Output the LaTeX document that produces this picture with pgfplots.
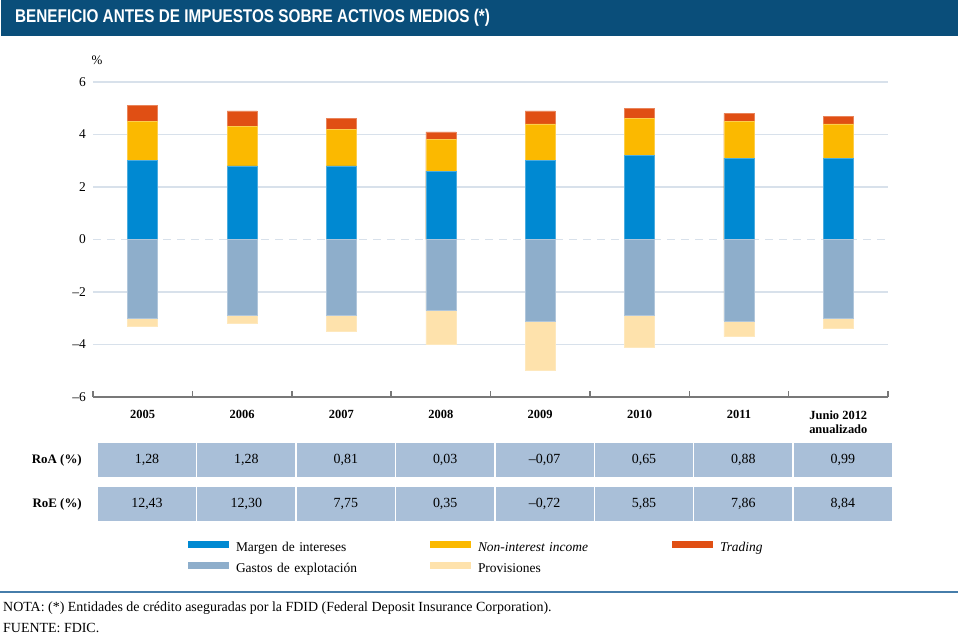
\documentclass[border=0pt]{standalone}
\usepackage{fontspec}
\setmainfont{Liberation Serif}
\newfontfamily\titlefont[FakeStretch=0.83]{Liberation Sans}
\usepackage{pgfplots}
\pgfplotsset{compat=1.18}
\usepackage{pgfplotstable}
\definecolor{titleblue}{RGB}{10,78,122}
\definecolor{cmargen}{RGB}{0,137,210}
\definecolor{cnii}{RGB}{251,185,0}
\definecolor{ctrading}{RGB}{224,79,20}
\definecolor{cgastos}{RGB}{142,174,203}
\definecolor{cprov}{RGB}{254,226,172}
\definecolor{gridc}{RGB}{216,225,235}
\definecolor{axisgray}{RGB}{120,120,120}
\definecolor{cellc}{RGB}{169,191,216}
\definecolor{sepc}{RGB}{70,125,170}

\pgfplotstableread{
x margen nii trading gastos prov
0.5 3.0 1.5 0.6 -3.0 -0.3
1.5 2.8 1.5 0.6 -2.9 -0.3
2.5 2.8 1.4 0.4 -2.9 -0.6
3.5 2.6 1.2 0.3 -2.7 -1.3
4.5 3.0 1.4 0.5 -3.1 -1.9
5.5 3.2 1.4 0.4 -2.9 -1.2
6.5 3.1 1.4 0.3 -3.1 -0.6
7.5 3.1 1.3 0.3 -3.0 -0.4
}\datatable

\begin{document}
\begin{tikzpicture}[x=1bp,y=1bp]
\path[use as bounding box] (0,0) rectangle (958,634);
\fill[titleblue] (1,598) rectangle (958,634);
\node[anchor=west, text=white, inner sep=0pt] at (15,616)
  {\titlefont\bfseries\fontsize{18.5}{20}\selectfont BENEFICIO ANTES DE IMPUESTOS SOBRE ACTIVOS MEDIOS (*)};
\node[anchor=south, inner sep=0pt] at (97,569) {\fontsize{13}{14}\selectfont\%};

\begin{axis}[
  at={(93bp,237bp)}, anchor=south west,
  scale only axis, width=795bp, height=315bp,
  xmin=0, xmax=8, ymin=-6, ymax=6,
  ybar, bar width=30bp, bar shift=0pt,
  axis x line*=bottom, axis y line*=left,
  x axis line style={-, draw=axisgray, line width=2bp},
  y axis line style={draw=none},
  xtick={0.5,1.5,2.5,3.5,4.5,5.5,6.5,7.5},
  xticklabels={2005,2006,2007,2008,2009,2010,2011,{Junio 2012\\anualizado}},
  xticklabel style={font=\bfseries\fontsize{12.5}{14}\selectfont, align=center, anchor=north, yshift=-10bp},
  major tick length=0pt,
  extra x ticks={0,1,2,3,4,5,6,7,8},
  extra x tick labels={},
  extra x tick style={major tick length=6bp, tick align=inside, tick style={draw=axisgray, line width=1.5bp}},
  ytick={-6,-4,-2,2,4,6},
  yticklabels={\textendash6,\textendash4,\textendash2,2,4,6},
  extra y ticks={0}, extra y tick labels={0},
  extra y tick style={grid style={draw=gridc, line width=1.8bp, dash pattern=on 8bp off 6bp}},
  ymajorgrids, grid style={draw=gridc, line width=1.5bp},
  yticklabel style={font=\fontsize{13.5}{15}\selectfont, inner sep=0pt, anchor=east, xshift=-7bp},
  legend columns=3, legend cell align=left,
  legend style={at={(0.1195,-0.457)}, anchor=north west, draw=none, fill=none,
    inner sep=0pt, outer sep=0pt, font=\fontsize{13.5}{15}\selectfont,
    nodes={inner sep=0pt, text width=194bp, text height=9bp, text depth=3bp, align=left},
    row sep=8bp, /tikz/every odd column/.append style={column sep=7bp}},
  legend image code/.code={\fill[#1,draw=none] (0bp,0.5bp) rectangle (41bp,7.5bp);},
]
% positive components, drawn as cumulative totals from top to bottom
\addplot[fill=ctrading, draw=ctrading!70!white, line width=0.5bp, forget plot]
  table[x=x,y expr={\thisrow{margen}+\thisrow{nii}+\thisrow{trading}}]{\datatable};
\addplot[fill=cnii, draw=cnii!70!white, line width=0.5bp, forget plot]
  table[x=x,y expr={\thisrow{margen}+\thisrow{nii}}]{\datatable};
\addplot[fill=cmargen, draw=cmargen!70!white, line width=0.5bp, forget plot]
  table[x=x,y=margen]{\datatable};
% negative components
\addplot[fill=cprov, draw=cprov!80!white, line width=0.5bp, forget plot]
  table[x=x,y expr={\thisrow{gastos}+\thisrow{prov}}]{\datatable};
\addplot[fill=cgastos, draw=cgastos!70!white, line width=0.5bp, forget plot]
  table[x=x,y=gastos]{\datatable};
% legend
\addlegendimage{fill=cmargen, draw=none}
\addlegendentry{Margen de intereses}
\addlegendimage{fill=cnii, draw=none}
\addlegendentry{\textit{Non-interest income}}
\addlegendimage{fill=ctrading, draw=none}
\addlegendentry{\textit{Trading}}
\addlegendimage{fill=cgastos, draw=none}
\addlegendentry{Gastos de explotación}
\addlegendimage{fill=cprov, draw=none}
\addlegendentry{Provisiones}
\end{axis}

% RoA / RoE table
\foreach \i/\a/\e in {0/{1,28}/{12,43},1/{1,28}/{12,30},2/{0,81}/{7,75},3/{0,03}/{0,35},4/{\textendash0,07}/{\textendash0,72},5/{0,65}/{5,85},6/{0,88}/{7,86},7/{0,99}/{8,84}} {
  \pgfmathsetmacro{\xa}{98+\i*99.4}
  \pgfmathsetmacro{\xb}{\xa+98}
  \pgfmathsetmacro{\xc}{\xa+49}
  \fill[cellc] (\xa,157) rectangle (\xb,191);
  \fill[cellc] (\xa,113) rectangle (\xb,147);
  \node[inner sep=0pt] at (\xc,174) {\fontsize{14}{15}\selectfont\a};
  \node[inner sep=0pt] at (\xc,130) {\fontsize{14}{15}\selectfont\e};
}
\node[anchor=east, inner sep=0pt] at (82,174) {\bfseries\fontsize{13}{14}\selectfont RoA (\%)};
\node[anchor=east, inner sep=0pt] at (82,130) {\bfseries\fontsize{13}{14}\selectfont RoE (\%)};

\draw[sepc, line width=1.2bp] (0,42) -- (958,42);
\node[anchor=west, inner sep=0pt] at (3,26) {\fontsize{14}{15}\selectfont NOTA: (*) Entidades de crédito aseguradas por la FDID (Federal Deposit Insurance Corporation).};
\node[anchor=west, inner sep=0pt] at (3,6) {\fontsize{14}{15}\selectfont FUENTE: FDIC.};
\end{tikzpicture}
\end{document}
